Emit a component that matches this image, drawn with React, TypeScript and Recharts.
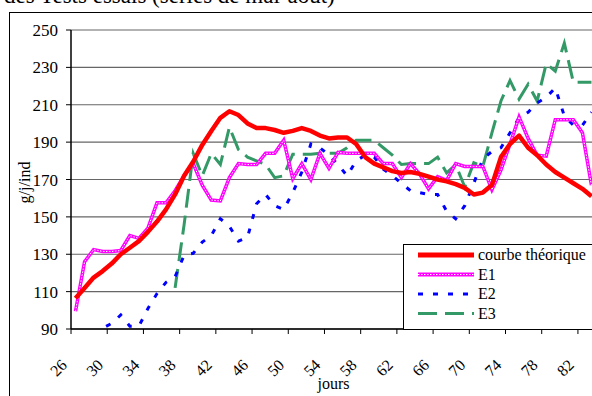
import { LineChart, Line, XAxis, YAxis, CartesianGrid } from 'recharts';

// jours d'observation
const days = [
  26, 27, 28, 29, 30, 31, 32, 33, 34, 35,
  36, 37, 38, 39, 40, 41, 42, 43, 44, 45,
  46, 47, 48, 49, 50, 51, 52, 53, 54, 55,
  56, 57, 58, 59, 60, 61, 62, 63, 64, 65,
  66, 67, 68, 69, 70, 71, 72, 73, 74, 75,
  76, 77, 78, 79, 80, 81, 82, 83,
];

// g/j/ind
const courbeTheorique = [
  106.5, 112, 117.5, 121, 125, 130, 133.5, 137, 142, 147.5,
  154, 162, 172, 179.5, 188.5, 196, 203, 206.5, 204.5, 200,
  197.5, 197.5, 196.5, 195, 196, 197.5, 196, 193.5, 192, 192.5,
  192.5, 189, 182, 178.5, 176.5, 174.5, 173.5, 174, 173, 171.5,
  170, 169, 167.5, 165.5, 162, 163, 167, 182, 189, 193.5,
  187, 183, 178, 174, 171, 168, 165, 161,
];

const e1 = [
  99.5, 126, 132.5, 131.5, 131.5, 132, 140, 138.5, 144, 157.5,
  157.5, 164, 172, 178.5, 167, 159, 158.5, 171, 178.5, 178,
  178, 184, 184, 191, 170.5, 178.5, 170, 184, 176, 184.5,
  184, 184, 184, 184, 178.5, 178.5, 171, 178.5, 173, 165,
  171.5, 169.5, 178.5, 177, 177, 177, 164.5, 175, 189, 203.5,
  192, 183, 182.5, 202, 202, 202, 195, 167,
];

const e2 = [
  null, null, 87, 90.5, 93, 97.5, 91.5, 91.5, 101, 109,
  115, 118, 129.5, 130.5, 136.5, 140, 149, 145, 137, 139,
  157, 162, 156, 154, 163, 174, 189, 187, 183, 178,
  172, 180, 183, 182, 175.5, 172, 168, 164, 163, 162,
  162, 153, 149, 156, 168, 181, 185, 187, 195, 203,
  206, 211, 214, 219, 204, 199, 199, 206,
];

const e3 = [
  null, null, null, null, null, null, null, null, null, null,
  null, 112, 146, 184, 172, 184, 178, 198, 186, 182,
  180, 178, 171, 172, 183.5, 183.5, 183.5, 184, 184, 184,
  187, 191, 191, 191, 187, 183, 178, 178.5, 178.5, 178.5,
  182, 173.5, 178, 166, 179, 177, 195, 212, 223, 213,
  221, 212, 232, 228, 243, 222, 222, 222,
];

const dayTicks = [26, 30, 34, 38, 42, 46, 50, 54, 58, 62, 66, 70, 74, 78, 82];
const valueTicks = [90, 110, 130, 150, 170, 190, 210, 230, 250];

const legendItems = [
  { name: 'courbe théorique', color: '#ff0000', width: 5, dash: undefined },
  { name: 'E1', color: '#ff00ff', width: 4, dash: undefined },
  { name: 'E2', color: '#0000ff', width: 3, dash: '5 10' },
  { name: 'E3', color: '#339966', width: 3, dash: '19 8' },
];

const rows = days.map((day, i) => ({
  day,
  theo: courbeTheorique[i],
  e1: e1[i],
  e2: e2[i],
  e3: e3[i],
}));

const serif = 'Liberation Serif';

// tick marks fall between two days, labels hang under the day
const DayTick = (props: any) => {
  const { x, y, payload } = props;
  const lx = x - 7.5;
  const ly = y + 37;
  return (
    <g>
      <line x1={x - 4.5} x2={x - 4.5} y1={y} y2={y + 5} stroke="#000" />
      <text
        x={lx}
        y={ly}
        textAnchor="end"
        transform={`rotate(-45 ${lx} ${ly})`}
        fontSize={16}
        fontFamily={serif}
        fill="#000"
      >
        {payload.value}
      </text>
    </g>
  );
};

const YTitle = (props: any) => {
  const vb = props.viewBox;
  const cx = vb.x + 9;
  const cy = vb.y + vb.height / 2 + 3;
  return (
    <text
      x={cx}
      y={cy}
      textAnchor="middle"
      transform={`rotate(-90 ${cx} ${cy})`}
      fontSize={16}
      fontFamily={serif}
      fill="#000"
    >
      g/j/ind
    </text>
  );
};

const XTitle = (props: any) => {
  const vb = props.viewBox;
  return (
    <text
      x={vb.x + vb.width / 2}
      y={vb.y + 60}
      textAnchor="middle"
      fontSize={16}
      fontFamily={serif}
      fill="#000"
    >
      jours
    </text>
  );
};

export default function App() {
  return (
    <div
      style={{
        position: 'fixed',
        left: 0,
        top: 0,
        width: 592,
        height: 396,
        overflow: 'hidden',
        background: '#fff',
        fontFamily: serif,
      }}
    >
      <div
        style={{
          position: 'absolute',
          left: 4,
          top: -17,
          fontSize: 23,
          whiteSpace: 'nowrap',
          color: '#000',
        }}
      >
        des Tests essais (séries de mai-août)
      </div>
      <div
        style={{
          position: 'absolute',
          left: 9,
          top: 12,
          width: 700,
          height: 500,
          border: '1px solid #000',
        }}
      />
      <div style={{ position: 'absolute', left: 0, top: 0 }}>
        <LineChart
          width={640}
          height={396}
          data={rows}
          margin={{ top: 30, right: 44, bottom: 7, left: 21 }}
        >
          <CartesianGrid vertical={false} stroke="#666" strokeWidth={1.2} />
          <XAxis
            dataKey="day"
            type="number"
            domain={[25.5, 83.5]}
            allowDataOverflow
            ticks={dayTicks}
            interval={0}
            height={60}
            tickSize={0}
            tickMargin={0}
            tickLine={false}
            axisLine={{ stroke: '#000', strokeWidth: 1.5 }}
            tick={<DayTick />}
            label={{ content: <XTitle /> }}
          />
          <YAxis
            type="number"
            domain={[90, 250]}
            allowDataOverflow
            ticks={valueTicks}
            interval={0}
            width={50}
            tickSize={5}
            tickMargin={8}
            axisLine={{ stroke: '#000', strokeWidth: 1.5 }}
            tickLine={{ stroke: '#000' }}
            tick={{ fontSize: 17, fill: '#000', fontFamily: serif }}
            label={{ content: <YTitle /> }}
          />
          <Line
            dataKey="e3"
            stroke="#339966"
            strokeWidth={3}
            strokeDasharray="19 8"
            dot={false}
            type="linear"
            isAnimationActive={false}
          />
          <Line
            dataKey="e2"
            stroke="#0000ff"
            strokeWidth={3}
            strokeDasharray="5 10"
            dot={false}
            type="linear"
            isAnimationActive={false}
          />
          <Line
            dataKey="e1"
            stroke="#ff00ff"
            strokeWidth={3.5}
            dot={false}
            type="linear"
            isAnimationActive={false}
          />
          <Line
            dataKey="e1"
            stroke="#ffffff"
            strokeWidth={1}
            strokeDasharray="1.5 1.5"
            dot={false}
            type="linear"
            legendType="none"
            isAnimationActive={false}
          />
          <Line
            dataKey="theo"
            stroke="#ff0000"
            strokeWidth={4.5}
            strokeLinejoin="round"
            dot={false}
            type="linear"
            isAnimationActive={false}
          />
        </LineChart>
      </div>
      <div
        style={{
          position: 'absolute',
          left: 403,
          top: 244,
          width: 230,
          height: 84,
          border: '1px solid #000',
          background: '#fff',
        }}
      >
        <svg width={230} height={84}>
          {legendItems.map((item, i) => {
            const cy = 10 + i * 19.5;
            return (
              <g key={item.name}>
                <line
                  x1={14}
                  x2={70}
                  y1={cy}
                  y2={cy}
                  stroke={item.color}
                  strokeWidth={item.width}
                  strokeDasharray={item.dash}
                />
                {item.name === 'E1' && (
                  <line x1={14} x2={70} y1={cy} y2={cy} stroke="#fff" strokeWidth={1} strokeDasharray="1.5 1.5" />
                )}
                <text x={74} y={cy + 5} fontSize={16} fontFamily={serif} fill="#000">
                  {item.name}
                </text>
              </g>
            );
          })}
        </svg>
      </div>
    </div>
  );
}
